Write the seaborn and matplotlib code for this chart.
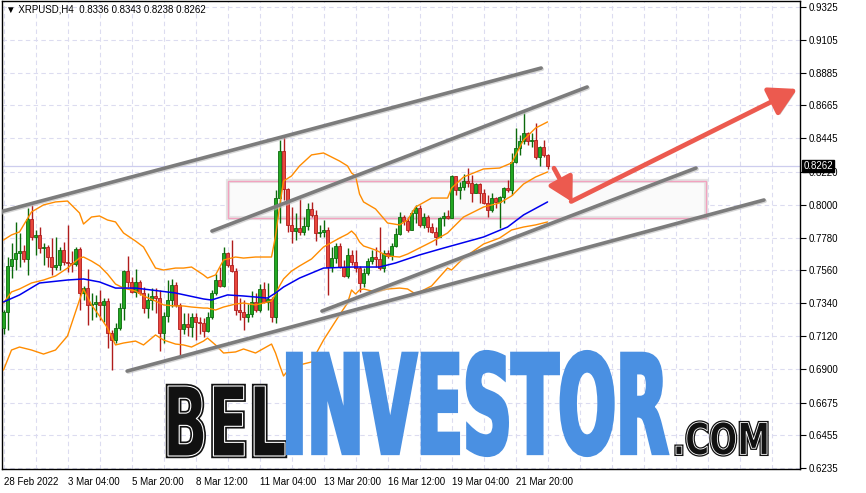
# -*- coding: utf-8 -*-
# XRPUSD H4 candlestick chart with Bollinger bands, channel lines and watermark
import matplotlib
matplotlib.use("Agg")
import matplotlib.pyplot as plt
import matplotlib.patheffects as pe
from matplotlib.colors import to_rgb
from matplotlib.patches import Rectangle
from matplotlib.transforms import Affine2D, blended_transform_factory
from matplotlib.ticker import FixedLocator
import numpy as np
import seaborn as sns

# ---- candles (H4, starting 28 Feb 2022 12:00), opens = previous close ----
first_open = 0.7174
closes = [0.7282, 0.7590, 0.7637, 0.7677, 0.7690, 0.7637, 0.7905, 0.7784, 0.7798, 0.7710,
          0.7717, 0.7650, 0.7583, 0.7597, 0.7697, 0.7617, 0.7610, 0.7603, 0.7704, 0.7409,
          0.7443, 0.7329, 0.7335, 0.7349, 0.7329, 0.7355, 0.7141, 0.7094, 0.7175, 0.7309,
          0.7556, 0.7483, 0.7416, 0.7483, 0.7409, 0.7309, 0.7362, 0.7389, 0.7375, 0.7141,
          0.7255, 0.7362, 0.7463, 0.7329, 0.7168, 0.7201, 0.7181, 0.7248, 0.7215, 0.7208,
          0.7155, 0.7248, 0.7409, 0.7496, 0.7456, 0.7677, 0.7597, 0.7556, 0.7295, 0.7282,
          0.7248, 0.7268, 0.7349, 0.7295, 0.7436, 0.7349, 0.7369, 0.7248, 0.8045, 0.8360,
          0.8106, 0.7865, 0.7824, 0.7844, 0.7818, 0.7858, 0.7972, 0.7932, 0.7811, 0.7818,
          0.7831, 0.7583, 0.7643, 0.7724, 0.7583, 0.7523, 0.7663, 0.7617, 0.7576, 0.7476,
          0.7543, 0.7623, 0.7650, 0.7637, 0.7576, 0.7677, 0.7657, 0.7724, 0.7804, 0.7918,
          0.7891, 0.7831, 0.7945, 0.7979, 0.7865, 0.7918, 0.7851, 0.7818, 0.7784, 0.7911,
          0.7925, 0.7911, 0.8193, 0.8099, 0.8119, 0.8159, 0.8146, 0.8079, 0.8139, 0.8079,
          0.8012, 0.7965, 0.8045, 0.8018, 0.8052, 0.8112, 0.8099, 0.8287, 0.8380, 0.8427,
          0.8481, 0.8427, 0.8434, 0.8320, 0.8387, 0.8336, 0.8262]
highs = [0.7295, 0.7650, 0.7744, 0.7885, 0.7811, 0.7731, 0.7978, 0.7999, 0.7831, 0.7851,
         0.7744, 0.7731, 0.7778, 0.7784, 0.7717, 0.7751, 0.7865, 0.7690, 0.7717, 0.7717,
         0.7456, 0.7570, 0.7409, 0.7396, 0.7429, 0.7375, 0.7375, 0.7161, 0.7208, 0.7342,
         0.7563, 0.7657, 0.7516, 0.7570, 0.7496, 0.7449, 0.7409, 0.7443, 0.7443, 0.7429,
         0.7282, 0.7496, 0.7503, 0.7483, 0.7342, 0.7275, 0.7275, 0.7275, 0.7275, 0.7248,
         0.7241, 0.7282, 0.7429, 0.7536, 0.7583, 0.7717, 0.7684, 0.7764, 0.7576, 0.7375,
         0.7362, 0.7335, 0.7423, 0.7409, 0.7469, 0.7483, 0.7476, 0.7382, 0.8099, 0.8434,
         0.8454, 0.8112, 0.7985, 0.7945, 0.8039, 0.7918, 0.8012, 0.8018, 0.7965, 0.7865,
         0.7898, 0.7851, 0.7717, 0.7744, 0.7744, 0.7630, 0.7710, 0.7697, 0.7697, 0.7590,
         0.7576, 0.7643, 0.7697, 0.7717, 0.7851, 0.7697, 0.7697, 0.7744, 0.7844, 0.7952,
         0.7932, 0.7918, 0.7965, 0.7999, 0.7999, 0.7945, 0.7932, 0.7878, 0.7851, 0.7918,
         0.7952, 0.7965, 0.8200, 0.8193, 0.8153, 0.8206, 0.8246, 0.8200, 0.8146, 0.8146,
         0.8106, 0.8065, 0.8079, 0.8052, 0.8059, 0.8119, 0.8166, 0.8347, 0.8514, 0.8467,
         0.8615, 0.8488, 0.8481, 0.8548, 0.8394, 0.8434, 0.8343]
lows = [0.7134, 0.7161, 0.7509, 0.7563, 0.7583, 0.7617, 0.7530, 0.7764, 0.7664, 0.7677,
        0.7597, 0.7583, 0.7530, 0.7563, 0.7563, 0.7597, 0.7550, 0.7550, 0.7590, 0.7295,
        0.7362, 0.7194, 0.7228, 0.7248, 0.7228, 0.7215, 0.7040, 0.6893, 0.7074, 0.7161,
        0.7228, 0.7449, 0.7409, 0.7382, 0.7396, 0.7275, 0.7241, 0.7295, 0.7275, 0.7020,
        0.7074, 0.7215, 0.7315, 0.7315, 0.6987, 0.7134, 0.7121, 0.7114, 0.7094, 0.7134,
        0.7114, 0.7148, 0.7235, 0.7396, 0.7449, 0.7449, 0.7583, 0.7550, 0.7262, 0.7228,
        0.7161, 0.7215, 0.7248, 0.7282, 0.7282, 0.7342, 0.7295, 0.7215, 0.7208, 0.7878,
        0.8032, 0.7818, 0.7744, 0.7764, 0.7798, 0.7798, 0.7831, 0.7918, 0.7757, 0.7784,
        0.7784, 0.7396, 0.7550, 0.7610, 0.7576, 0.7516, 0.7509, 0.7597, 0.7550, 0.7416,
        0.7449, 0.7530, 0.7603, 0.7583, 0.7563, 0.7550, 0.7643, 0.7630, 0.7717, 0.7798,
        0.7865, 0.7818, 0.7831, 0.7878, 0.7851, 0.7844, 0.7818, 0.7811, 0.7731, 0.7784,
        0.7858, 0.7905, 0.7911, 0.8065, 0.8039, 0.8099, 0.8119, 0.8018, 0.8086, 0.8012,
        0.8005, 0.7918, 0.7952, 0.7979, 0.7844, 0.8012, 0.8086, 0.8065, 0.8280, 0.8334,
        0.8407, 0.8401, 0.8387, 0.8307, 0.8260, 0.8320, 0.8238]

# ---- Bollinger bands read at sample candles ----
band_idx = [0, 2, 4, 7, 10, 13, 16, 19, 20, 22, 24, 26, 28, 30, 33, 35, 38, 40, 43, 45,
            47, 50, 51, 53, 55, 58, 60, 63, 67, 68, 69, 70, 72, 74, 77, 80, 84, 86, 87, 88,
            89, 90, 93, 96, 99, 101, 103, 107, 111, 112, 115, 120, 124, 127, 130, 133, 136]
band_upper = [0.7764, 0.7798, 0.7818, 0.7952, 0.7999, 0.8019, 0.8025, 0.7945, 0.7871, 0.7918,
              0.7925, 0.7898, 0.7885, 0.7811, 0.7757, 0.7717, 0.7576, 0.7563, 0.7576, 0.7576,
              0.7583, 0.7530, 0.7509, 0.7530, 0.7630, 0.7650, 0.7643, 0.7650, 0.7650, 0.7791,
              0.7985, 0.8159, 0.8193, 0.8260, 0.8334, 0.8347, 0.8293, 0.8260, 0.8213, 0.8193,
              0.8072, 0.8019, 0.7972, 0.7878, 0.7865, 0.7898, 0.7985, 0.8045, 0.8045, 0.8112,
              0.8186, 0.8240, 0.8246, 0.8280, 0.8434, 0.8514, 0.8555]
band_mid = [0.7342, 0.7416, 0.7436, 0.7476, 0.7496, 0.7523, 0.7576, 0.7643, 0.7650, 0.7623,
            0.7590, 0.7536, 0.7469, 0.7442, 0.7422, 0.7389, 0.7355, 0.7329, 0.7322, 0.7322,
            0.7315, 0.7308, 0.7308, 0.7295, 0.7315, 0.7335, 0.7342, 0.7329, 0.7355, 0.7402,
            0.7456, 0.7503, 0.7556, 0.7590, 0.7637, 0.7717, 0.7777, 0.7804, 0.7824, 0.7798,
            0.7751, 0.7724, 0.7697, 0.7657, 0.7650, 0.7670, 0.7697, 0.7751, 0.7811, 0.7838,
            0.7918, 0.7985, 0.8012, 0.8059, 0.8139, 0.8186, 0.8220]
band_lower = [0.6893, 0.7027, 0.7047, 0.7027, 0.7000, 0.7027, 0.7121, 0.7362, 0.7436, 0.7329,
              0.7255, 0.7174, 0.7061, 0.7074, 0.7087, 0.7061, 0.7128, 0.7094, 0.7067, 0.7061,
              0.7047, 0.7087, 0.7107, 0.7061, 0.7007, 0.7014, 0.7034, 0.7007, 0.7067, 0.7007,
              0.6927, 0.6853, 0.6920, 0.6927, 0.6947, 0.7094, 0.7262, 0.7342, 0.7429, 0.7402,
              0.7429, 0.7436, 0.7416, 0.7436, 0.7442, 0.7436, 0.7402, 0.7456, 0.7576, 0.7563,
              0.7643, 0.7737, 0.7777, 0.7831, 0.7851, 0.7865, 0.7885]

# blue moving average
ma_idx = [0, 4, 9, 16, 20, 24, 28, 33, 37, 43, 50, 52, 56, 60, 66, 68, 70, 74, 80, 87,
          94, 98, 104, 110, 120, 126, 130, 136]
ma_vals = [0.7349, 0.7396, 0.7476, 0.7496, 0.7503, 0.7483, 0.7442, 0.7442, 0.7429, 0.7409,
           0.7369, 0.7362, 0.7396, 0.7389, 0.7375, 0.7409, 0.7449, 0.7509, 0.7576, 0.7583,
           0.7583, 0.7610, 0.7664, 0.7710, 0.7784, 0.7851, 0.7932, 0.8019]

# trend channel lines (candle index, price)
chan_x0 = [-0.9, 52.1, 79.6, 30.9]
chan_p0 = [0.7952, 0.7824, 0.7288, 0.6886]
chan_x1 = [134.4, 145.9, 173.1, 190.1]
chan_p1 = [0.8916, 0.8789, 0.8246, 0.8032]

# support zone rectangle
zone_x = [56.1, 175.6]
zone_p = [0.7911, 0.8159]

# red arrows
arrow_x0 = [137.6, 141.9]
arrow_p0 = [0.8245, 0.8022]
arrow_x1 = [142.2, 198.4]
arrow_p1 = [0.8018, 0.8776]

# axes labels
price_ticks = ['0.6235', '0.6455', '0.6675', '0.6900', '0.7120', '0.7340', '0.7560', '0.7780',
               '0.8000', '0.8220', '0.8445', '0.8665', '0.8885', '0.9105', '0.9325']
date_pos = [0, 16, 32, 48, 64, 80, 96, 112, 128]
date_labels = ['28 Feb 2022', '3 Mar 04:00', '5 Mar 20:00', '8 Mar 12:00', '11 Mar 04:00',
               '13 Mar 20:00', '16 Mar 12:00', '19 Mar 04:00', '21 Mar 20:00']
title = "\u25bc XRPUSD,H4  0.8336 0.8343 0.8238 0.8262"


class FitBox(pe.AbstractPathEffect):
    """Draw the text path stretched to fill a pixel box (x0, y0, x1, y1)."""

    def __init__(self, box, fill, edge=None, lw=0.0):
        super().__init__()
        self.box, self.edge, self.lw = box, edge, lw
        self.fill = None if fill is None else to_rgb(fill)

    def draw_path(self, renderer, gc, tpath, affine, rgbFace=None):
        ext = tpath.get_extents(affine)
        x0, y0, x1, y1 = self.box
        fit = affine + Affine2D().translate(-ext.x0, -ext.y0).scale(
            (x1 - x0) / ext.width, (y1 - y0) / ext.height).translate(x0, y0)
        gc0 = renderer.new_gc()
        gc0.copy_properties(gc)
        gc0.set_joinstyle('miter')
        if self.edge is not None:
            gc0.set_foreground(self.edge)
            gc0.set_linewidth(self.lw)
        else:
            gc0.set_linewidth(0)
        renderer.draw_path(gc0, tpath, fit, self.fill)
        gc0.restore()


sns.set_theme(style="white")
plt.rcParams['font.family'] = ['Liberation Sans', 'DejaVu Sans']

c = np.array(closes)
o = np.array([first_open] + closes[:-1])
h = np.maximum(np.array(highs), np.maximum(o, c))
l = np.minimum(np.array(lows), np.minimum(o, c))
x = np.arange(len(c))
up = c >= o
dn = ~up

fig = plt.figure(figsize=(8.66, 4.93), dpi=100)
ax = fig.add_axes([2 / 866, 24 / 493, 798 / 866, 468 / 493])
ax.set_facecolor('white')

# grid
gkw = dict(color='#dcdcf0', linestyle=(0, (4, 3)), linewidth=0.8)
ax.set_axisbelow(True)
ax.yaxis.grid(True, which='major', **gkw)
ax.xaxis.grid(True, which='both', **gkw)

# zone and bid line
ax.add_patch(Rectangle((zone_x[0], zone_p[0]), zone_x[1] - zone_x[0], zone_p[1] - zone_p[0],
                       facecolor='#fafafa', edgecolor='#e4e4e4', lw=3, zorder=0.6))
ax.add_patch(Rectangle((zone_x[0], zone_p[0]), zone_x[1] - zone_x[0], zone_p[1] - zone_p[0],
                       facecolor='none', edgecolor='#f2a2bf', lw=1, zorder=0.65))
ax.axhline(closes[-1], color='#cdcdee', lw=0.9, zorder=0.7)

# candles
g_fill, g_edge = '#22a822', '#0c6a0c'
r_fill, r_edge = '#e8463c', '#b01c1c'
ax.vlines(x[up], l[up], h[up], color=g_edge, lw=1, zorder=2)
ax.vlines(x[dn], l[dn], h[dn], color=r_edge, lw=1, zorder=2)
ax.bar(x[up], c[up] - o[up], bottom=o[up], width=0.72, color=g_fill,
       edgecolor=g_edge, linewidth=0.6, zorder=3)
ax.bar(x[dn], c[dn] - o[dn], bottom=o[dn], width=0.72, color=r_fill,
       edgecolor=r_edge, linewidth=0.6, zorder=3)

# indicators
for vals in (band_upper, band_mid, band_lower):
    sns.lineplot(x=band_idx, y=vals, color='#ff8c00', lw=1, ax=ax, legend=False, zorder=4)
sns.lineplot(x=ma_idx, y=ma_vals, color='#0000ee', lw=1.1, ax=ax, legend=False, zorder=4)

# channel lines
for xa, pa, xb, pb in zip(chan_x0, chan_p0, chan_x1, chan_p1):
    ax.plot([xa, xb], [pa, pb], color='#7c7c7c', lw=2.6, solid_capstyle='round', zorder=5,
            path_effects=[pe.SimpleLineShadow(offset=(0.8, -0.8), shadow_color='#bbbbbb', alpha=0.6),
                          pe.Normal()])

# arrows
for xa, pa, xb, pb, hs in zip(arrow_x0, arrow_p0, arrow_x1, arrow_p1, [19, 22]):
    ax.annotate('', xy=(xb, pb), xytext=(xa, pa), zorder=6,
                arrowprops=dict(arrowstyle='-|>,head_length=0.75,head_width=0.42',
                                color='#ec5a4f', lw=3.4, shrinkA=0, shrinkB=0,
                                mutation_scale=hs,
                                path_effects=[pe.SimplePatchShadow(offset=(1.5, -1.5),
                                                                   shadow_rgbFace='#999999', alpha=0.5),
                                              pe.Normal()]))

# axes
ax.set_xlim(-0.375, 199.1)
ax.set_ylim(0.6230, 0.9365)
ax.set_xlabel('')
ax.set_ylabel('')
ax.set_yticks([float(t) for t in price_ticks])
ax.set_yticklabels(price_ticks)
ax.yaxis.tick_right()
ax.set_xticks(date_pos)
ax.set_xticklabels(date_labels, ha='left')
ax.xaxis.set_minor_locator(FixedLocator(list(range(8, 200, 8))))
ax.tick_params(axis='both', which='major', direction='out', length=4, width=0.8,
               colors='black', labelsize=7, pad=2)
ax.tick_params(axis='x', which='minor', length=0)
ax.tick_params(axis='y', left=False, right=True, labelleft=False, labelright=True)
for lab in ax.get_xticklabels():
    lab.set_x(lab.get_position()[0])
for s in ax.spines.values():
    s.set_color('black')
    s.set_linewidth(1)

# current price box
ax.text(1.004, closes[-1], f"{closes[-1]:.4f}", transform=blended_transform_factory(ax.transAxes, ax.transData),
        ha='left', va='center', color='white', fontsize=7, zorder=10, clip_on=False,
        bbox=dict(boxstyle='square,pad=0.1', fc='black', ec='black'))

# title
fig.text(6 / 866, 1 - 10 / 493, title, ha='left', va='center', fontsize=7, color='black')

# watermark
wm = [("BEL", (168, 37, 285, 107), 40, [FitBox((168, 37, 285, 107), '#111111', '#111111', 3.2),
                                         FitBox((168, 37, 285, 107), None, 'white', 0.8)]),
      ("INVESTOR", (288, 38, 667, 141), 48, [FitBox((288, 38, 667, 141), '#4a90e2', '#4a90e2', 3.0)]),
      (".COM", (676, 38, 767, 71), 22, [FitBox((676, 38, 767, 71), '#111111', '#111111', 2.4),
                                        FitBox((676, 38, 767, 71), None, 'white', 0.6)])]
for txt, box, size, effects in wm:
    fig.text(box[0] / 866, box[1] / 493, txt, ha='left', va='baseline', fontsize=size,
             fontweight='bold', family='DejaVu Sans', zorder=20, path_effects=effects)

fig.savefig('out.png', dpi=100)
